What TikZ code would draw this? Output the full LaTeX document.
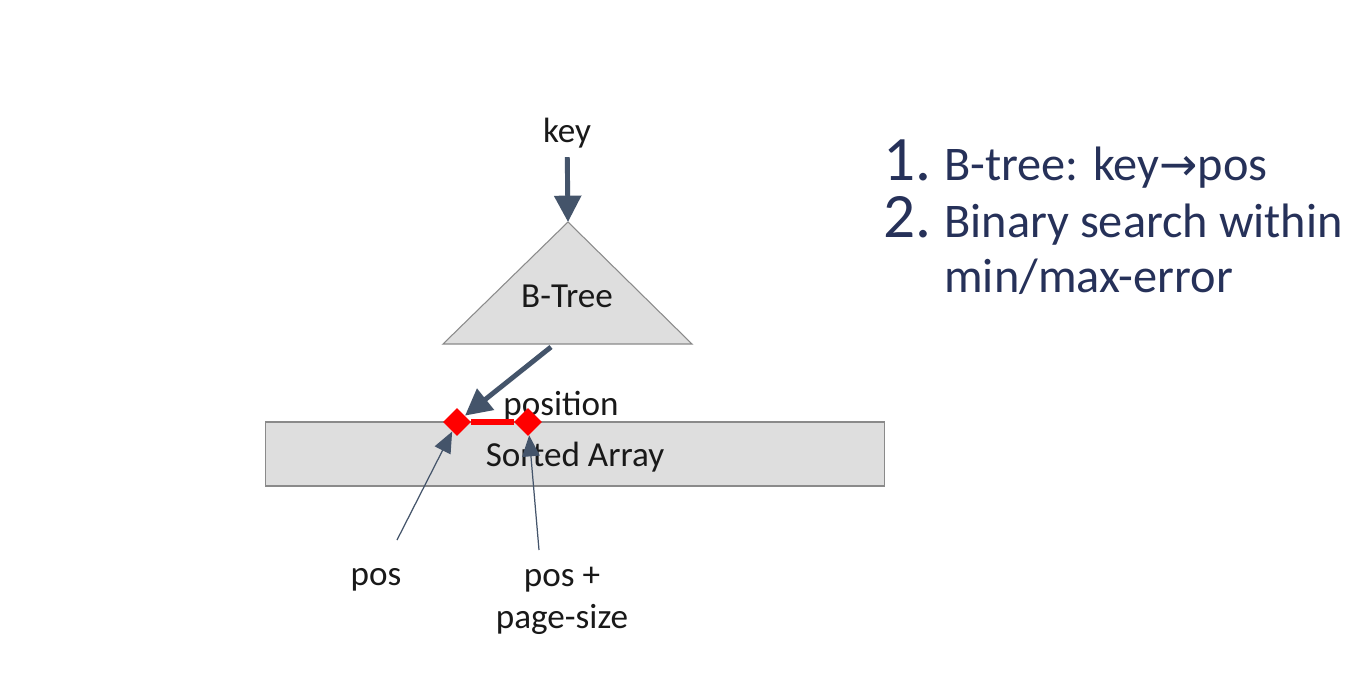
\documentclass[tikz,border=0pt]{standalone}
\usepackage{fontspec}
\setmainfont{Carlito}
\newfontfamily\symfont{DejaVu Sans}
\usepackage{xcolor}
\usepackage{tikz}
\usetikzlibrary{shapes.geometric}
\usetikzlibrary{positioning}
\usetikzlibrary{arrows.meta}
\definecolor{slatenavy}{HTML}{44546A}
\definecolor{listnavy}{HTML}{263159}
\definecolor{boxgray}{HTML}{DEDEDE}
\definecolor{edgegray}{HTML}{8A8A8A}
\tikzset{
  labeltext/.style={%
    font=\fontsize{20}{24}\selectfont,
    text=black!90,
    inner sep=0,
  },
  listtext/.style={%
    font=\fontsize{27.5}{32}\selectfont,
    text=listnavy,
    inner sep=0,
    anchor=base west,
  },
  listnum/.style={%
    font=\fontsize{36}{40}\selectfont,
    text=listnavy,
    inner sep=0,
  },
  thickarrow/.style={%
    slatenavy,
    line width=2.8pt,
    -{Triangle[length=15pt,width=15pt]},
  },
  thinarrow/.style={%
    slatenavy,
    line width=0.7pt,
    -{Triangle[length=12pt,width=10pt]},
  },
  marker/.style={%
    diamond,
    fill=red,
    inner sep=0,
    minimum size=16pt,
  },
}
\begin{document}
\begin{tikzpicture}[x=0.02cm,y=-0.02cm]
  \useasboundingbox [fill=white] (0,0) rectangle (1366,676);
  % tree
  \node (key) [labeltext] at (567,133) {key};
  \coordinate (apex) at (568,222);
  \coordinate (baseL) at (443,344);
  \coordinate (baseR) at (692,344);
  \draw [fill=boxgray,draw=edgegray,line width=0.6pt] (apex) -- (baseR) -- (baseL) -- cycle;
  \node (btree) [labeltext] at (567,296) {B-Tree};
  \draw [thickarrow,shorten <=5pt] (key) -- (apex);
  % array
  \node (arr) [draw=edgegray,fill=boxgray,line width=0.6pt,minimum width=12.4cm,minimum height=1.28cm] at (575,454) {};
  \node (sorted) [labeltext] at (575,457) {Sorted Array};
  \node (position) [labeltext] at (561,406) {position};
  \node (lo) [marker] at (457,422) {};
  \node (hi) [marker] at (528,422) {};
  \draw [red,line width=3pt] (lo) -- (hi);
  \coordinate (tbase) at (551,347);
  \draw [thickarrow] (tbase) -- (lo);
  % bounds
  \node (pos) [labeltext] at (376,580) {pos};
  \node (posend) [labeltext,align=center] at (562,601) {pos +\\page-size};
  \coordinate (posfoot) at (397,540);
  \coordinate (endfoot) at (539,550);
  \draw [thinarrow] (posfoot) -- (lo);
  \draw [thinarrow] (endfoot) -- (hi);
  % steps
  \node (item1) [listtext] at (944,180) {B-tree: key{\symfont\fontsize{26}{30}\selectfont →}pos};
  \node (num1) [listnum,base left=7pt of item1] {1.};
  \node (item2) [listtext] at (944,237) {Binary search within};
  \node (num2) [listnum,base left=7pt of item2] {2.};
  \node (item3) [listtext] at (944,292) {min/max-error};
\end{tikzpicture}
\end{document}
